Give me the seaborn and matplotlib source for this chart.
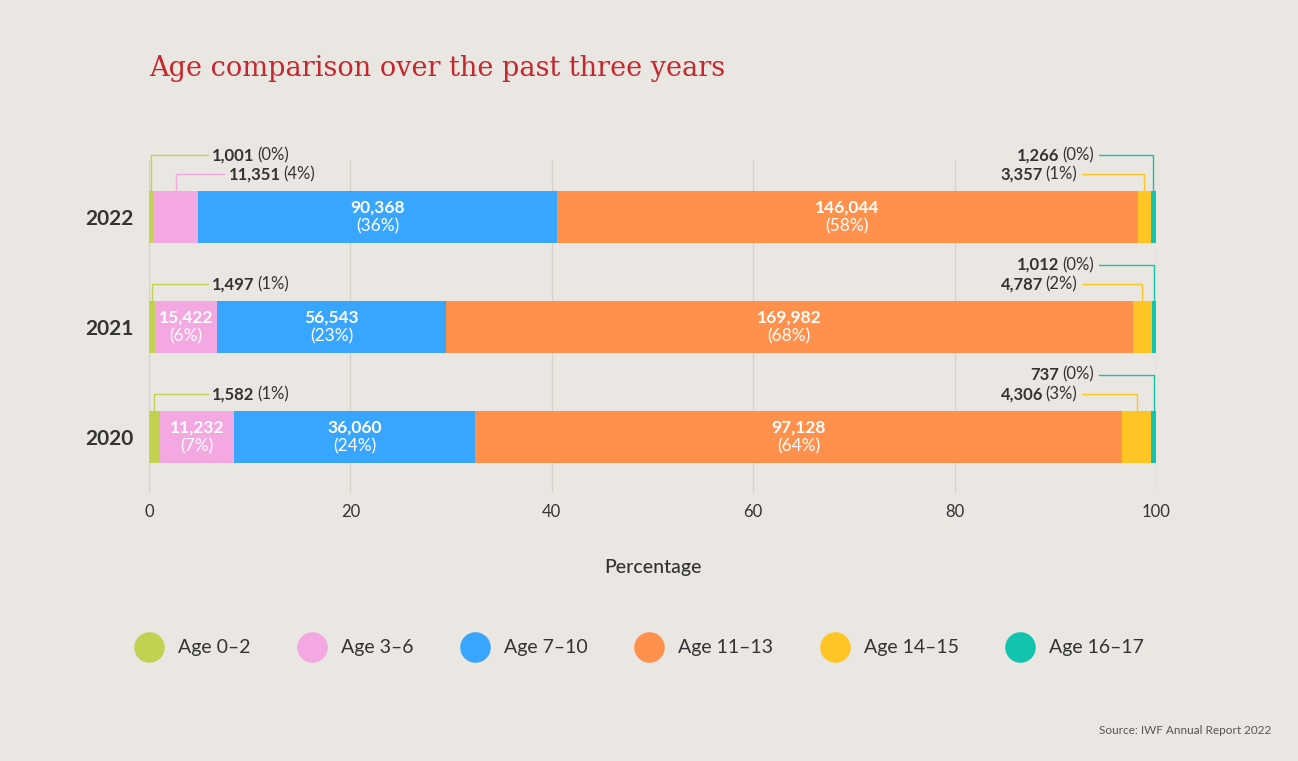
import pandas as pd
import matplotlib.pyplot as plt
from matplotlib.lines import Line2D
import seaborn as sns

# Data
years = ['2022', '2021', '2020']
age_groups = ['Age 0–2', 'Age 3–6', 'Age 7–10', 'Age 11–13', 'Age 14–15', 'Age 16–17']
counts_0_2 = [1001, 1497, 1582]
counts_3_6 = [11351, 15422, 11232]
counts_7_10 = [90368, 56543, 36060]
counts_11_13 = [146044, 169982, 97128]
counts_14_15 = [3357, 4787, 4306]
counts_16_17 = [1266, 1012, 737]

colors = ['#C3D150', '#F3A8E2', '#38A6FF', '#FF914D', '#FFC524', '#12C3AE']
bg = '#EAE7E2'
dark = '#333333'

df = pd.DataFrame(dict(zip(age_groups, [counts_0_2, counts_3_6, counts_7_10,
                                        counts_11_13, counts_14_15, counts_16_17])),
                   index=years)
pct = df.div(df.sum(axis=1), axis=0) * 100
cum = pct.cumsum(axis=1)

sns.set_theme(style='white')
plt.rcParams['font.family'] = ['Lato', 'DejaVu Sans']

fig = plt.figure(figsize=(12.98, 7.61), dpi=100, facecolor=bg)
ax = fig.add_axes([149 / 1298, 1 - 493 / 761, (1156 - 149) / 1298, 333 / 761])
ax.set_facecolor(bg)

# stacked bars: draw cumulative totals from the longest down
bar_h = 0.47
for g, c in zip(reversed(age_groups), reversed(colors)):
    sns.barplot(x=cum[g].values, y=years, color=c, width=bar_h, orient='h',
                saturation=1, linewidth=0, ax=ax, zorder=2)

ax.set_xlim(0, 100)
ax.set_ylim(2.51, -0.52)
ax.set_xticks([0, 20, 40, 60, 80, 100])
ax.xaxis.grid(True, color='#D6D2CB', lw=1)
ax.set_axisbelow(True)
for s in ax.spines.values():
    s.set_visible(False)
ax.tick_params(axis='x', length=0, pad=8, labelsize=12, labelcolor=dark)
ax.tick_params(axis='y', length=0, pad=11, labelsize=15, labelcolor=dark)
for t in ax.get_yticklabels():
    t.set_fontweight('bold')
ax.set_xlabel('Percentage', fontsize=14, color=dark, labelpad=28, fontweight='medium')
ax.set_ylabel('')

# label anchors for small segments
left_x = {0: 6.26, 1: 7.9}
right_x = {4: 92.2, 5: 93.85}
near, far = -0.39, -0.565
fs = 12

for i, yr in enumerate(years):
    outside_left = []
    outside_right = []
    for j, g in enumerate(age_groups):
        p = pct.loc[yr, g]
        n = df.loc[yr, g]
        cx = cum.loc[yr, g] - p / 2
        if p >= 5:
            ax.text(cx, i - 0.085, f'{n:,}', ha='center', va='center', color='white',
                    fontsize=12.5, fontweight='bold', zorder=3)
            ax.text(cx, i + 0.085, f'({p:.0f}%)', ha='center', va='center', color='white',
                    fontsize=12.5, zorder=3)
        elif j < 3:
            outside_left.append(j)
        else:
            outside_right.append(j)

    # left side: innermost segment gets the near level
    for k, j in enumerate(sorted(outside_left, reverse=True)):
        g = age_groups[j]
        p = pct.loc[yr, g]
        n = df.loc[yr, g]
        cx = cum.loc[yr, g] - p / 2
        ly = i + (near if k == 0 else far)
        tx = left_x[j]
        ax.plot([cx, cx, tx - 0.45], [i - bar_h / 2, ly, ly], color=colors[j], lw=1,
                clip_on=False, zorder=1)
        t1 = ax.text(tx, ly, f'{n:,}', ha='left', va='center', color=dark,
                     fontsize=fs, fontweight='bold', clip_on=False)
        ax.annotate(f'({p:.0f}%)', xy=(1, 0.5), xycoords=t1, xytext=(2, 0),
                    textcoords='offset points', ha='left', va='center',
                    color=dark, fontsize=fs)

    # right side: 14-15 near, 16-17 far
    for j in outside_right:
        g = age_groups[j]
        p = pct.loc[yr, g]
        n = df.loc[yr, g]
        cx = cum.loc[yr, g] - p / 2
        ly = i + (near if j == 4 else far)
        tx = right_x[j]
        ax.plot([tx + 0.45, cx, cx], [ly, ly, i - bar_h / 2], color=colors[j], lw=1,
                clip_on=False, zorder=1)
        t1 = ax.text(tx, ly, f'({p:.0f}%)', ha='right', va='center', color=dark,
                     fontsize=fs, clip_on=False)
        ax.annotate(f'{n:,}', xy=(0, 0.5), xycoords=t1, xytext=(-2, 0),
                    textcoords='offset points', ha='right', va='center',
                    color=dark, fontsize=fs, fontweight='bold')

# title and source
fig.text(149 / 1298, 1 - 69 / 761, 'Age comparison over the past three years',
         fontsize=19.5, color='#C3282E', family='DejaVu Serif', va='center')
fig.text(1271 / 1298, 1 - 730 / 761, 'Source: IWF Annual Report 2022', ha='right',
         va='center', fontsize=8.5, color='#555555')

# legend
handles = [Line2D([0], [0], marker='o', ls='', markersize=22, markerfacecolor=c,
                  markeredgewidth=0) for c in colors]
fig.legend(handles, age_groups, loc='center left', bbox_to_anchor=(0.0865, 1 - 648 / 761),
           ncol=6, frameon=False, fontsize=14, handletextpad=0.5, columnspacing=2.15,
           labelcolor=dark)

fig.savefig('out.png', dpi=100, facecolor=bg)
